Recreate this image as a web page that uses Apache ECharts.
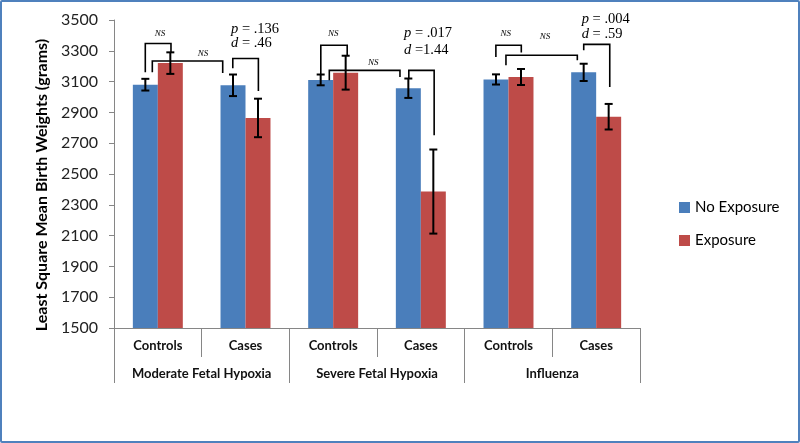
<!DOCTYPE html>
<html>
<head>
<meta charset="utf-8">
<script src="https://cdn.jsdelivr.net/npm/echarts@6/dist/echarts.min.js"></script>
<style>
	html, body { margin: 0; padding: 0; background: #fff; }
	#wrap { position: relative; width: 800px; height: 443px; }
	#chart { width: 800px; height: 443px; }
	#frame { position: absolute; left: 0; top: 0; width: 800px; height: 443px; box-sizing: border-box;
		border: 2px solid #4f81bd; border-radius: 2px; pointer-events: none; }
</style>
</head>
<body>
<div id="wrap">
	<div id="chart"></div>
	<div id="frame"></div>
</div>
<script>
var categories = [ 'Controls', 'Cases', 'Controls', 'Cases', 'Controls', 'Cases' ];
var groups = [ 'Moderate Fetal Hypoxia', 'Severe Fetal Hypoxia', 'Influenza' ];
var yTicks = { min : 1500, max : 3500, step : 200 };

var noExposure = [ 3080, 3076, 3111, 3057, 3114, 3160 ];
var noExposureErr = [ 38, 70, 35, 63, 33, 56 ];
var exposure = [ 3220, 2864, 3158, 2386, 3130, 2872 ];
var exposureErr = [ 70, 125, 110, 273, 52, 83 ];

// brackets: [x start (category units), y start, y top, x end, y end]
var brackets = [
	[ -0.143, 3160, 3347, 0.150, 3286 ],
	[ -0.063, 3160, 3234, 0.740, 3156 ],
	[ 0.855, 3187, 3250, 1.147, 3039 ],
	[ 1.859, 3147, 3336, 2.160, 3271 ],
	[ 1.956, 3108, 3173, 2.762, 3130 ],
	[ 2.863, 3121, 3173, 3.152, 2751 ],
	[ 3.856, 3260, 3336, 4.146, 3289 ],
	[ 3.971, 3206, 3271, 4.785, 3238 ],
	[ 4.858, 3303, 3342, 5.155, 3065 ]
];
// "NS" labels: [x (category units), y value]
var nsLabels = [
	[ 0.025, 3414 ], [ 0.515, 3284 ], [ 2.001, 3412 ],
	[ 2.458, 3224 ], [ 3.968, 3414 ], [ 4.416, 3390 ]
];
// p / d labels: [x (category units), p text, y of p, d text, y of d]
var statLabels = [
	[ 0.835, ' = .136', 3440, ' = .46', 3349 ],
	[ 2.808, ' = .017', 3412, ' =1.44', 3303 ],
	[ 4.835, ' = .004', 3505, ' = .59', 3407 ]
];

var blue = '#4a7ebb';
var red = '#be4b48';
var axisGray = '#868686';
var sans = 'Lato';
var serif = 'Liberation Serif';

function posX(api, x) {
	var idx = Math.round(x);
	return api.coord([ idx, yTicks.min ])[0] + (x - idx) * api.size([ 1, 0 ])[0];
}
function posY(api, v) {
	return api.coord([ 0, v ])[1];
}

function errorRender(values, errs, side) {
	return function(params, api) {
		var i = params.dataIndex;
		var x = posX(api, i + side * 0.1425);
		var top = posY(api, values[i] + errs[i]);
		var bot = posY(api, values[i] - errs[i]);
		var style = { stroke : '#000', lineWidth : 2 };
		return {
			type : 'group',
			children : [
				{ type : 'line', shape : { x1 : x, y1 : top, x2 : x, y2 : bot }, style : style },
				{ type : 'line', shape : { x1 : x - 4, y1 : top, x2 : x + 4, y2 : top }, style : style },
				{ type : 'line', shape : { x1 : x - 4, y1 : bot, x2 : x + 4, y2 : bot }, style : style }
			]
		};
	};
}

function bracketRender(params, api) {
	var b = brackets[params.dataIndex];
	var x1 = posX(api, b[0]), x2 = posX(api, b[3]);
	return {
		type : 'polyline',
		shape : { points : [ [ x1, posY(api, b[1]) ], [ x1, posY(api, b[2]) ], [ x2, posY(api, b[2]) ], [ x2, posY(api, b[4]) ] ] },
		style : { stroke : '#000', lineWidth : 1.6, fill : null }
	};
}

function nsRender(params, api) {
	var l = nsLabels[params.dataIndex];
	return {
		type : 'text',
		x : posX(api, l[0]),
		y : posY(api, l[1]),
		style : {
			text : 'NS', fill : '#000', fontFamily : serif, fontSize : 9, fontStyle : 'italic',
			align : 'center', verticalAlign : 'middle'
		}
	};
}

function statRender(params, api) {
	var s = statLabels[params.dataIndex];
	var x = posX(api, s[0]);
	var rich = { i : { fontStyle : 'italic', fontFamily : serif, fontSize : 14.5, fill : '#000' },
		n : { fontFamily : serif, fontSize : 14.5, fill : '#000' } };
	return {
		type : 'group',
		children : [ {
			type : 'text', x : x, y : posY(api, s[2]),
			style : { text : '{i|p}{n|' + s[1] + '}', rich : rich, align : 'left', verticalAlign : 'middle' }
		}, {
			type : 'text', x : x, y : posY(api, s[4]),
			style : { text : '{i|d}{n|' + s[3] + '}', rich : rich, align : 'left', verticalAlign : 'middle' }
		} ]
	};
}

var option = {
	animation : false,
	grid : { left : 114, right : 160, top : 20, bottom : 115 },
	legend : {
		orient : 'vertical',
		left : 674,
		top : 195,
		itemWidth : 11,
		itemHeight : 11,
		itemGap : 18,
		icon : 'rect',
		textStyle : { fontFamily : sans, fontSize : 15, color : '#000' },
		data : [ 'No Exposure', 'Exposure' ]
	},
	xAxis : [ {
		type : 'category',
		position : 'bottom',
		data : categories,
		axisLine : { lineStyle : { color : axisGray, width : 1 } },
		axisTick : { show : true, length : 29, interval : 0, lineStyle : { color : axisGray } },
		axisLabel : { interval : 0, margin : 11, fontFamily : sans, fontSize : 13, fontWeight : 'bold', color : '#111' }
	}, {
		type : 'category',
		position : 'bottom',
		data : groups,
		axisLine : { show : false },
		axisTick : { show : true, length : 55, interval : 0, lineStyle : { color : axisGray } },
		axisLabel : { interval : 0, margin : 39, fontFamily : sans, fontSize : 13, fontWeight : 'bold', color : '#111' }
	} ],
	yAxis : {
		type : 'value',
		min : yTicks.min,
		max : yTicks.max,
		interval : yTicks.step,
		name : 'Least Square Mean Birth Weights (grams)',
		nameLocation : 'middle',
		nameGap : 58,
		nameTextStyle : { fontFamily : sans, fontSize : 16, fontWeight : 'bold', color : '#000', padding : [ 0, 22, 0, 0 ] },
		axisLine : { show : true, lineStyle : { color : axisGray } },
		axisTick : { show : true, length : 5, lineStyle : { color : axisGray } },
		splitLine : { show : false },
		axisLabel : { margin : 16, fontFamily : sans, fontSize : 16, color : '#222', formatter : function(v) { return String(v); } }
	},
	series : [ {
		name : 'No Exposure',
		type : 'bar',
		data : noExposure,
		barGap : '0%',
		barCategoryGap : '43%',
		itemStyle : { color : blue }
	}, {
		name : 'Exposure',
		type : 'bar',
		data : exposure,
		barGap : '0%',
		barCategoryGap : '43%',
		itemStyle : { color : red }
	}, {
		type : 'custom',
		renderItem : errorRender(noExposure, noExposureErr, -1),
		data : noExposure.map(function(v, i) { return [ i, v ]; }),
		z : 5
	}, {
		type : 'custom',
		renderItem : errorRender(exposure, exposureErr, 1),
		data : exposure.map(function(v, i) { return [ i, v ]; }),
		z : 5
	}, {
		type : 'custom',
		renderItem : bracketRender,
		data : brackets.map(function(b) { return [ Math.round(b[0]), b[2] ]; }),
		z : 6
	}, {
		type : 'custom',
		renderItem : nsRender,
		data : nsLabels.map(function(l) { return [ Math.round(l[0]), l[1] ]; }),
		z : 6
	}, {
		type : 'custom',
		renderItem : statRender,
		data : statLabels.map(function(s) { return [ Math.round(s[0]), s[2] ]; }),
		z : 6
	} ]
};

var chart = echarts.init(document.getElementById('chart'));
chart.setOption(option);
</script>
</body>
</html>
